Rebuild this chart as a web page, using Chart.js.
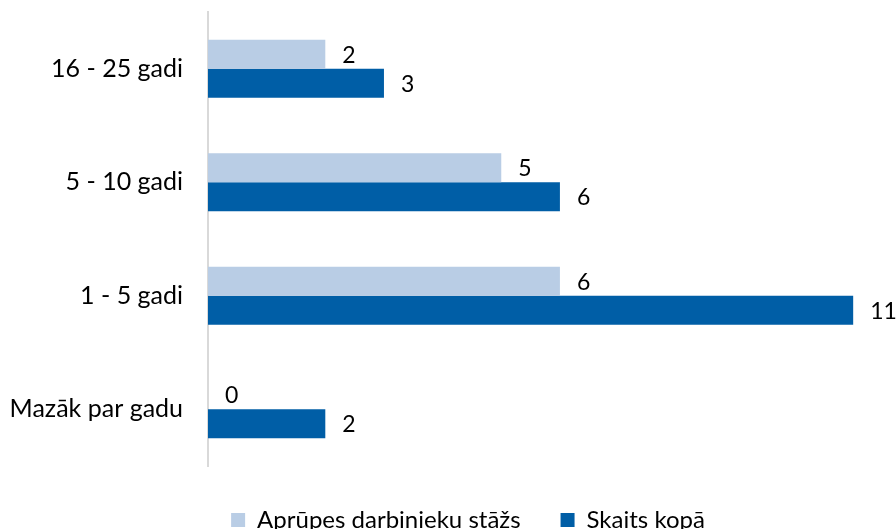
<!DOCTYPE html>
<html><head><meta charset="utf-8">
<script src="https://cdn.jsdelivr.net/npm/chart.js@4"></script>
<style>html,body{margin:0;padding:0;background:#fff}#wrap{width:896px;height:529px}</style>
</head><body><div id="wrap"><canvas id="c" width="896" height="529"></canvas></div>
<script>
const categories = ["16 - 25 gadi", "5 - 10 gadi", "1 - 5 gadi", "Mazāk par gadu"];
const seriesNames = ["Aprūpes darbinieku stāžs", "Skaits kopā"];
const staz = [2, 5, 6, 0];
const kopa = [3, 6, 11, 2];
const xMax = 11.73;

const FONT = "Lato, 'Open Sans', sans-serif";
const LEGEND_BOX_HEIGHT = 63;
const LEGEND_SHIFT_X = 20;
const LEGEND_SHIFT_Y = 2;

const labelPlugin = {
  id: 'vals',
  afterDatasetsDraw(chart) {
    const ctx = chart.ctx;
    ctx.save();
    ctx.font = "23px " + FONT;
    ctx.fillStyle = "#000";
    ctx.textAlign = "left";
    ctx.textBaseline = "middle";
    chart.data.datasets.forEach((ds, di) => {
      chart.getDatasetMeta(di).data.forEach((bar, i) => {
        ctx.fillText(String(ds.data[i]), bar.x + 17, bar.y + 1);
      });
    });
    ctx.restore();
  }
};

const legendFitPlugin = {
  id: 'legendFit',
  beforeLayout(chart) {
    const l = chart.legend;
    if (l && !l._wrappedFit) {
      const orig = l.fit.bind(l);
      l.fit = function () { orig(); this.height = LEGEND_BOX_HEIGHT; };
      l._wrappedFit = true;
    }
  },
  afterLayout(chart) {
    const l = chart.legend;
    if (!l) return;
    l.left += LEGEND_SHIFT_X; l.right += LEGEND_SHIFT_X;
    l.top += LEGEND_SHIFT_Y; l.bottom += LEGEND_SHIFT_Y;
  }
};

new Chart(document.getElementById('c'), {
  type: 'bar',
  data: {
    labels: categories,
    datasets: [
      { label: seriesNames[0], data: staz, backgroundColor: '#B9CDE5', categoryPercentage: 0.51, barPercentage: 1 },
      { label: seriesNames[1], data: kopa, backgroundColor: '#005EA6', categoryPercentage: 0.51, barPercentage: 1 }
    ]
  },
  options: {
    indexAxis: 'y',
    responsive: false,
    animation: false,
    devicePixelRatio: 1,
    layout: { padding: { top: 12, right: 0, bottom: 0, left: 0 } },
    scales: {
      x: { display: false, min: 0, max: xMax },
      y: {
        afterFit(s) { s.width = 208; s.paddingTop = 0; s.paddingBottom = 0; },
        grid: { display: false },
        border: { display: true, color: '#D9D9D9', width: 2 },
        ticks: { color: '#000', font: { family: FONT, size: 25 }, padding: 17 }
      }
    },
    plugins: {
      tooltip: { enabled: false },
      legend: {
        position: 'bottom',
        labels: {
          color: '#000',
          font: { family: FONT, size: 24 },
          boxWidth: 14, boxHeight: 14,
          padding: 40
        }
      }
    }
  },
  plugins: [legendFitPlugin, labelPlugin]
});
</script></body></html>
